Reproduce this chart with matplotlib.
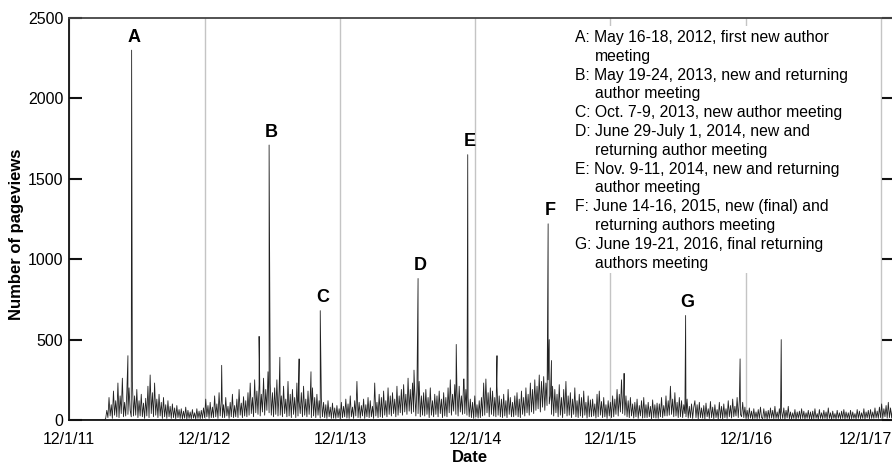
import numpy as np
import pandas as pd
import matplotlib
matplotlib.use('Agg')
import matplotlib.pyplot as plt
import matplotlib.dates as mdates
from matplotlib.patches import Rectangle
from matplotlib.transforms import offset_copy

plt.rcParams['font.family'] = ['Liberation Sans', 'DejaVu Sans']

# pageviews, one value every 3 days starting 12/1/11
views = [
    0, 0, 0, 0, 0, 0, 0, 0, 0, 0,
    0, 0, 0, 0, 0, 0, 0, 0, 0, 0,
    0, 0, 0, 0, 0, 0, 0, 0, 0, 0,
    0, 0, 0, 10, 60, 15, 140, 25, 95, 10,
    180, 30, 120, 20, 230, 15, 150, 40, 260, 20,
    110, 25, 170, 35, 200, 60, 20, 240, 25, 150,
    30, 190, 15, 120, 25, 160, 20, 105, 10, 135,
    25, 210, 15, 280, 40, 170, 20, 230, 30, 130,
    15, 160, 25, 110, 10, 140, 20, 95, 10, 120,
    20, 85, 10, 100, 15, 75, 8, 90, 15, 65,
    10, 70, 8, 55, 12, 80, 5, 60, 10, 50,
    8, 65, 12, 45, 5, 70, 10, 55, 8, 60,
    10, 75, 15, 130, 20, 90, 10, 110, 15, 80,
    15, 150, 20, 100, 10, 170, 25, 125, 15, 95,
    15, 140, 25, 85, 10, 110, 20, 160, 15, 90,
    20, 130, 15, 190, 30, 105, 15, 145, 25, 120,
    20, 170, 30, 230, 40, 140, 20, 250, 45, 180,
    35, 220, 25, 160, 50, 260, 30, 190, 60, 300,
    45, 230, 30, 170, 20, 200, 35, 250, 25, 180,
    30, 150, 20, 210, 40, 130, 20, 240, 25, 160,
    15, 190, 35, 140, 15, 230, 25, 120, 40, 170,
    20, 210, 30, 130, 20, 180, 35, 150, 15, 200,
    25, 140, 15, 160, 30, 120, 12, 135, 20, 110,
    15, 95, 10, 120, 20, 80, 10, 105, 12, 75,
    10, 90, 15, 70, 8, 110, 15, 85, 20, 130,
    12, 100, 10, 150, 20, 80, 10, 120, 25, 240,
    15, 110, 12, 90, 25, 130, 10, 95, 20, 140,
    15, 120, 20, 85, 10, 230, 25, 110, 15, 160,
    20, 140, 15, 180, 30, 120, 20, 200, 35, 150,
    25, 170, 40, 130, 20, 210, 30, 150, 45, 190,
    30, 220, 50, 160, 35, 260, 55, 190, 40, 230,
    50, 180, 25, 200, 40, 240, 20, 150, 30, 170,
    25, 190, 35, 140, 15, 200, 30, 120, 20, 160,
    35, 150, 20, 180, 40, 130, 15, 170, 25, 140,
    20, 200, 45, 250, 30, 160, 55, 220, 35, 180,
    25, 210, 50, 150, 35, 255, 40, 190, 30, 140,
    20, 130, 15, 110, 10, 150, 20, 95, 12, 120,
    15, 140, 25, 230, 30, 255, 45, 170, 20, 200,
    35, 180, 25, 140, 20, 210, 30, 150, 20, 130,
    15, 160, 25, 120, 15, 190, 35, 140, 20, 110,
    20, 150, 30, 170, 20, 130, 15, 180, 35, 140,
    25, 200, 45, 160, 30, 230, 50, 190, 40, 250,
    60, 210, 70, 280, 50, 240, 80, 270, 60, 230,
    90, 250, 100, 150, 35, 210, 25, 190, 45, 160,
    20, 220, 30, 140, 15, 190, 40, 240, 25, 150,
    30, 170, 15, 130, 35, 200, 20, 120, 15, 160,
    25, 140, 15, 180, 30, 110, 12, 150, 20, 125,
    20, 130, 25, 100, 12, 160, 20, 180, 30, 115,
    15, 140, 20, 95, 10, 120, 25, 110, 15, 150,
    20, 130, 35, 190, 25, 160, 50, 250, 40, 200,
    30, 150, 20, 120, 15, 140, 25, 100, 12, 110,
    20, 130, 10, 90, 25, 120, 12, 140, 15, 95,
    15, 110, 20, 85, 8, 125, 15, 95, 12, 105,
    10, 100, 20, 140, 15, 90, 25, 150, 25, 120,
    30, 210, 35, 130, 20, 170, 25, 110, 15, 140,
    20, 120, 15, 95, 40, 20, 130, 12, 85, 15,
    100, 10, 80, 120, 15, 95, 8, 110, 15, 75,
    12, 90, 8, 105, 20, 70, 10, 115, 15, 80,
    8, 95, 15, 65, 6, 110, 12, 85, 8, 100,
    15, 70, 10, 120, 20, 90, 12, 130, 20, 85,
    25, 140, 15, 120, 35, 20, 110, 15, 80, 10,
    60, 8, 75, 12, 55, 5, 70, 10, 50, 8,
    65, 10, 80, 15, 8, 70, 10, 55, 6, 60,
    10, 75, 12, 60, 8, 85, 10, 50, 8, 70,
    8, 55, 10, 75, 5, 60, 12, 85, 8, 50,
    6, 45, 10, 65, 4, 50, 10, 55, 8, 70,
    10, 55, 6, 45, 10, 60, 8, 50, 4, 55,
    8, 70, 10, 40, 5, 65, 10, 45, 8, 60,
    10, 50, 6, 75, 10, 45, 4, 55, 10, 40,
    6, 60, 10, 45, 8, 55, 10, 65, 6, 50,
    10, 45, 4, 60, 8, 50, 10, 40, 6, 65,
    10, 55, 8, 45, 10, 70, 6, 50, 12, 60,
    8, 65, 10, 50, 10, 75, 12, 55, 10, 80,
    15, 100, 10, 70, 20, 90, 12, 110, 15, 75, 12, 85,
]

# unlabeled single-day spikes
spike_dates = ['2012-05-08', '2013-01-16', '2013-04-27', '2013-06-22', '2013-08-13',
               '2013-09-14', '2014-06-19', '2014-10-11', '2014-11-01', '2015-01-29',
               '2015-06-19', '2015-06-25', '2016-01-07', '2016-11-15', '2017-03-06']
spike_values = [400, 340, 520, 390, 380, 300, 310, 470, 255, 400, 500, 370, 290, 380, 500]

# meeting peaks
event_labels = ['A', 'B', 'C', 'D', 'E', 'F', 'G']
event_dates = ['2012-05-18', '2013-05-24', '2013-10-09', '2014-06-30',
               '2014-11-11', '2015-06-16', '2016-06-21']
event_values = [2300, 1710, 680, 880, 1650, 1220, 650]

notes = [
    ('A: May 16-18, 2012, first new author', 'meeting'),
    ('B: May 19-24, 2013, new and returning', 'author meeting'),
    ('C: Oct. 7-9, 2013, new author meeting',),
    ('D: June 29-July 1, 2014, new and', 'returning author meeting'),
    ('E: Nov. 9-11, 2014, new and returning', 'author meeting'),
    ('F: June 14-16, 2015, new (final) and', 'returning authors meeting'),
    ('G: June 19-21, 2016, final returning', 'authors meeting'),
]

tick_dates = ['2011-12-01', '2012-12-01', '2013-12-01', '2014-12-01',
              '2015-12-01', '2016-12-01', '2017-12-01']
yticks = [0, 500, 1000, 1500, 2000, 2500]

base = pd.Series(views, index=pd.date_range('2011-12-01', periods=len(views), freq='3D'))
extra = pd.Series(spike_values + event_values, index=pd.to_datetime(spike_dates + event_dates))
series = pd.concat([base, extra]).sort_index()

W, H = 892, 468
fig = plt.figure(figsize=(W / 100, H / 100), dpi=100)
x0, x1, ytop, ybot = 69, 893.5, 18, 420
ax = fig.add_axes([x0 / W, 1 - ybot / H, (x1 - x0) / W, (ybot - ytop) / H])

ax.plot(series.index, series.values, color='#222222', lw=0.6, zorder=2)

ax.set_xlim(pd.Timestamp('2011-12-01'), pd.Timestamp('2018-01-03'))
ax.set_ylim(0, 2500)
ax.set_yticks(yticks)
ax.set_xticks(pd.to_datetime(tick_dates))


def fmt_date(v, pos):
    d = mdates.num2date(v)
    return '{}/{}/{}'.format(d.month, d.day, d.strftime('%y'))


ax.xaxis.set_major_formatter(plt.FuncFormatter(fmt_date))
ax.grid(axis='x', color='#c4c4c4', lw=1.0)
ax.tick_params(axis='x', length=0, pad=9, labelsize=11.5)
ax.tick_params(axis='y', direction='in', length=9, width=1.5, pad=4, labelsize=11.5,
               right=True, color='#111111')
for s in ['left', 'bottom']:
    ax.spines[s].set_linewidth(1.3)
    ax.spines[s].set_color('#111111')
ax.spines['top'].set_linewidth(1.3)
ax.spines['top'].set_color('#444444')

ax.set_ylabel('Number of pageviews', fontsize=12, fontweight='bold')
ax.yaxis.set_label_coords((17 - x0) / (x1 - x0), (ybot - 234) / (ybot - ytop))
ax.yaxis.label.set_va('center')
ax.set_xlabel('Date', fontsize=12, fontweight='bold')
ax.xaxis.set_label_coords((470 - x0) / (x1 - x0), (ybot - 458) / (ybot - ytop))
ax.xaxis.label.set_va('center')

for lab, d, v in zip(event_labels, event_dates, event_values):
    ax.annotate(lab, xy=(pd.Timestamp(d), v), xytext=(1.5, 6), textcoords='offset points',
                ha='center', va='baseline', fontsize=13, fontweight='bold')

# white panel behind the notes
ax.add_patch(Rectangle(((568 - x0) / (x1 - x0), (ybot - 273) / (ybot - ytop)),
                       290 / (x1 - x0), 247 / (ybot - ytop),
                       transform=ax.transAxes, facecolor='white', edgecolor='none', zorder=1.6))
baseline = 42
for note in notes:
    for k, line in enumerate(note):
        fig.text((575 if k == 0 else 595) / W, 1 - baseline / H, line,
                 fontsize=11.3, va='baseline', ha='left')
        baseline += 18.8

# last date label sits inside the figure, as in the original
fig.canvas.draw()
last = ax.get_xticklabels()[-1]
last.set_transform(offset_copy(last.get_transform(), fig=fig, x=-16, units='dots'))

fig.savefig('out.png', dpi=100)
